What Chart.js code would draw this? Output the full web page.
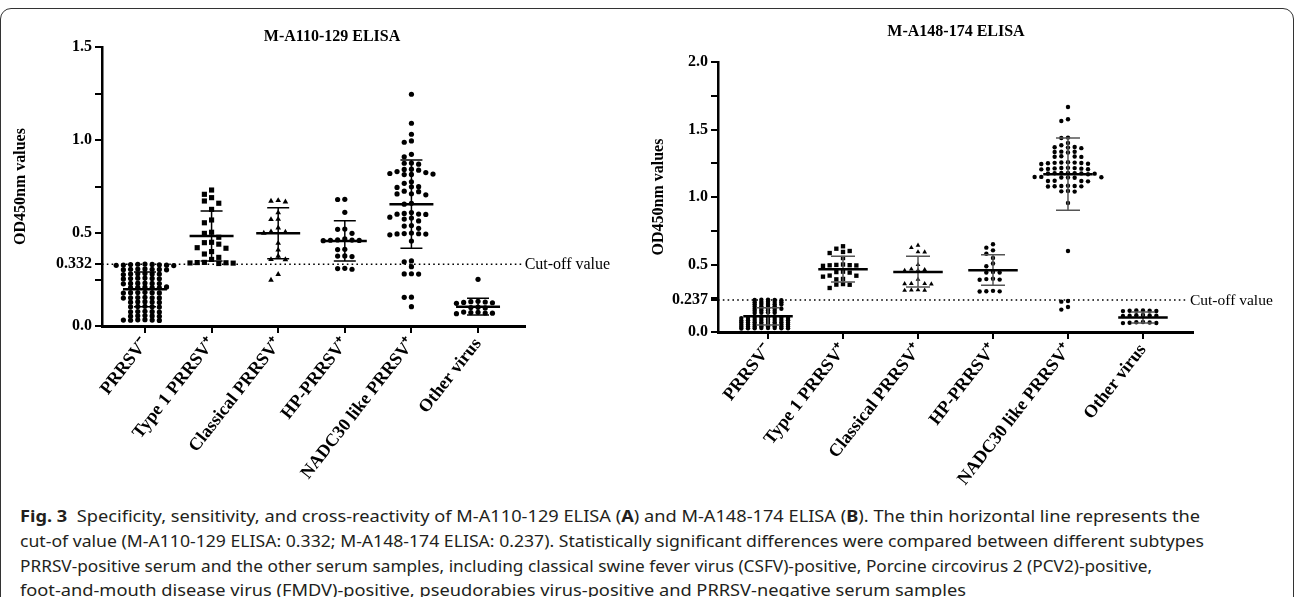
<!DOCTYPE html>
<html><head><meta charset="utf-8">
<script src="https://cdn.jsdelivr.net/npm/chart.js@4.4.0/dist/chart.umd.min.js"></script>
<style>
html,body{margin:0;padding:0;background:#fff;width:1295px;height:597px;overflow:hidden;position:relative;}
#frame{position:absolute;left:0;top:8px;width:1294px;height:600px;border:1.5px solid #333;border-radius:11px;box-sizing:border-box;}
canvas{position:absolute;top:0;}
#c1{left:0;} #c2{left:637px;}
.ttl{position:absolute;font-family:'Liberation Serif';font-weight:bold;font-size:16px;color:#000;white-space:nowrap;transform:translate(-50%,-50%);}
.cap{position:absolute;left:20px;font-family:'Noto Sans';font-size:16px;line-height:20px;color:#231f20;white-space:nowrap;transform-origin:0 50%;}
.cap b{font-weight:bold;}
</style></head><body>
<div id="frame"></div>
<canvas id="c1" width="664" height="500"></canvas>
<canvas id="c2" width="638" height="500"></canvas>
<div class="ttl" style="left:332px;top:36px;">M-A110-129 ELISA</div>
<div class="ttl" style="left:956px;top:31px;">M-A148-174 ELISA</div>
<div class="cap" data-w="1180" style="top:506px;"><b>Fig. 3</b>&nbsp; Specificity, sensitivity, and cross-reactivity of M-A110-129 ELISA (<b>A</b>) and M-A148-174 ELISA (<b>B</b>). The thin horizontal line represents the</div>
<div class="cap" data-w="1184" style="top:531px;">cut-of value (M-A110-129 ELISA: 0.332; M-A148-174 ELISA: 0.237). Statistically significant differences were compared between different subtypes</div>
<div class="cap" data-w="1132" style="top:556px;">PRRSV-positive serum and the other serum samples, including classical swine fever virus (CSFV)-positive, Porcine circovirus 2 (PCV2)-positive,</div>
<div class="cap" data-w="946" style="top:580px;">foot-and-mouth disease virus (FMDV)-positive, pseudorabies virus-positive and PRRSV-negative serum samples</div>
<script>
// ---------- data ----------
const categories = ['PRRSV\u207B','Type 1 PRRSV\u207A','Classical PRRSV\u207A','HP-PRRSV\u207A','NADC30 like PRRSV\u207A','Other virus'];

// Panel A: M-A110-129 ELISA
const A_prrsvNeg = [0.331,0.329,0.333,0.327,0.330,0.326,0.332,0.325,0.328,
  0.307,0.305,0.304,0.306,0.302,0.305,0.303,
  0.282,0.280,0.279,0.281,0.277,0.280,
  0.257,0.256,0.254,0.258,0.255,0.253,
  0.231,0.229,0.228,0.230,0.227,0.229,
  0.209,0.207,0.208,0.206,0.210,0.205,
  0.181,0.179,0.178,0.180,0.177,0.179,
  0.153,0.152,0.150,0.154,0.151,0.152,
  0.130,0.129,0.127,0.131,0.128,
  0.105,0.104,0.102,0.106,0.103,
  0.078,0.077,0.075,0.079,0.076,
  0.055,0.054,0.052,0.056,0.053,
  0.033,0.032,0.030,0.034,0.031,0.032];
const A_type1 = [0.731,0.708,0.690,0.672,0.660,0.627,0.570,0.555,0.504,0.498,0.477,0.450,0.448,0.440,0.421,0.418,0.400,0.387,0.369,0.358,0.342,0.340,0.341,0.339,0.338,0.336];
const A_classical = [0.672,0.668,0.675,0.609,0.574,0.573,0.528,0.507,0.505,0.500,0.445,0.409,0.376,0.358,0.357,0.278,0.247];
const A_hp = [0.681,0.680,0.611,0.521,0.520,0.498,0.462,0.460,0.463,0.468,0.459,0.461,0.412,0.411,0.376,0.373,0.377,0.310,0.305,0.309];
const A_nadc30 = [1.246,1.090,1.031,0.995,0.988,0.923,0.910,0.875,0.876,0.870,0.842,0.843,0.838,0.817,0.820,0.815,0.825,0.830,0.814,0.767,0.775,0.749,0.748,0.745,0.722,0.725,0.710,0.711,0.705,0.660,0.655,0.600,0.610,0.601,0.605,0.580,0.602,0.585,0.575,0.565,0.537,0.540,0.525,0.500,0.495,0.496,0.490,0.494,0.497,0.457,0.350,0.345,0.319,0.280,0.281,0.279,0.154,0.155,0.104];
const A_other = [0.251,0.131,0.127,0.133,0.125,0.129,0.122,0.097,0.099,0.101,0.072,0.066,0.070,0.075,0.069,0.074];
const A_groups = [A_prrsvNeg,A_type1,A_classical,A_hp,A_nadc30,A_other];
const A_means  = [0.197,0.484,0.498,0.457,0.654,0.104];
const A_sdHigh = [0.290,0.618,0.636,0.566,0.892,0.149];
const A_sdLow  = [0.104,0.349,0.362,0.349,0.418,0.059];
const A_cutoff = 0.332;
const A_yTicks = [0,0.25,0.332,0.5,0.75,1.0,1.25,1.5];
const A_yTickLabels = ['0.0','','0.332','0.5','','1.0','','1.5'];

// Panel B: M-A148-174 ELISA
const B_prrsvNeg = [0.240,0.238,0.236,0.239,0.237,
  0.223,0.221,0.222,0.220,0.224,
  0.207,0.205,0.206,0.204,0.208,
  0.191,0.189,0.190,0.192,
  0.175,0.173,0.174,0.176,0.172,
  0.159,0.157,0.158,0.160,
  0.143,0.141,0.142,0.144,
  0.106,0.104,0.105,0.103,0.107,0.105,0.104,0.106,
  0.089,0.087,0.088,0.090,0.086,0.089,0.088,0.087,
  0.072,0.071,0.073,0.070,0.074,0.072,0.071,0.073,
  0.057,0.055,0.056,0.058,0.054,0.056,0.057,0.055,
  0.042,0.040,0.041,0.043,0.039,0.041,0.042,0.040,
  0.029,0.027,0.028,0.030,0.026,0.028,0.029,0.027];
const B_type1 = [0.635,0.617,0.600,0.593,0.585,0.548,0.494,0.493,0.500,0.497,0.490,0.495,0.444,0.447,0.440,0.418,0.417,0.410,0.390,0.393,0.351,0.350,0.355,0.326];
const B_classical = [0.642,0.625,0.593,0.592,0.499,0.457,0.462,0.465,0.455,0.390,0.358,0.355,0.357,0.359,0.311,0.312,0.308,0.309];
const B_hp = [0.650,0.625,0.605,0.580,0.548,0.507,0.487,0.440,0.445,0.441,0.387,0.392,0.395,0.388,0.300,0.305,0.301,0.302];
const B_nadc30 = [1.667,1.576,1.563,1.440,1.437,1.400,1.383,
  1.366,1.370,1.368,1.362,
  1.333,1.336,1.330,1.335,
  1.300,1.298,1.302,1.297,
  1.252,1.245,1.258,1.250,1.256,1.253,1.246,1.255,
  1.215,1.208,1.216,1.212,1.214,1.205,1.206,1.210,
  1.175,1.174,1.178,1.177,1.176,1.168,1.179,1.173,
  1.146,1.148,1.143,1.145,1.149,1.144,
  1.118,1.120,1.116,1.119,
  1.080,1.082,1.078,1.081,1.079,1.083,
  1.042,1.044,1.040,
  0.956,0.600,0.230,0.225,0.185,0.166];
const B_other = [0.158,0.160,0.156,0.159,0.157,0.155,0.124,0.120,0.126,0.122,0.118,0.121,0.072,0.068,0.074,0.066,0.070,0.067];
const B_groups = [B_prrsvNeg,B_type1,B_classical,B_hp,B_nadc30,B_other];
const B_means  = [0.116,0.464,0.444,0.457,1.168,0.107];
const B_sdHigh = [0.180,0.561,0.561,0.573,1.437,0.148];
const B_sdLow  = [0.052,0.370,0.333,0.346,0.901,0.067];
const B_cutoff = 0.237;
const B_yTicks = [0,0.237,0.25,0.5,0.75,1.0,1.25,1.5,1.75,2.0];
const B_yTickLabels = ['0.0','0.237','','0.5','','1.0','','1.5','','2.0'];

// ---------- helpers ----------
const SERIF = 'Liberation Serif';
const markerStyles = ['circle','rect','triangle','circle','circle','circle'];

// grid beeswarm: a point moves sideways (0,-1,+1,-2,+2,...) until it no longer collides
function swarm(values, center, collidePx, stepX, pxPerY) {
  const s = values.slice().sort((a,b)=>b-a);
  const placed = [];
  s.forEach(v => {
    for (let k=0; k<80; k++) {
      const off = k===0 ? 0 : (k%2 ? -Math.ceil(k/2) : k/2);
      const ok = placed.every(p => p.off !== off || Math.abs(p.v - v)*pxPerY >= collidePx);
      if (ok) { placed.push({v, off}); break; }
    }
  });
  return placed.map(p => ({x: center + p.off*stepX, y: p.v}));
}

function buildChart(el, cfg) {
  const ds = [];
  cfg.groups.forEach((vals, i) => {
    const st = markerStyles[i];
    ds.push({
      data: swarm(vals, i, cfg.collide[i], cfg.step, cfg.pxPerY),
      pointStyle: st,
      pointRadius: st==='rect' ? cfg.r*1.4 : (st==='triangle' ? cfg.r*1.25 : cfg.r),
      pointBackgroundColor: '#000', pointBorderWidth: 0, showLine: false, order: 2
    });
  });
  const meanPts = [], sdPts = [];
  cfg.means.forEach((m, i) => {
    meanPts.push({x:i-cfg.meanHalf,y:m},{x:i+cfg.meanHalf,y:m},{x:i,y:null});
    const hi = cfg.sdHigh[i], lo = cfg.sdLow[i];
    sdPts.push({x:i-cfg.capHalf,y:hi},{x:i+cfg.capHalf,y:hi},{x:i,y:null},
               {x:i,y:hi},{x:i,y:lo},{x:i,y:null},
               {x:i-cfg.capHalf,y:lo},{x:i+cfg.capHalf,y:lo},{x:i,y:null});
  });
  ds.push({data: sdPts, showLine:true, spanGaps:false, borderColor: cfg.sdColor, borderWidth:1.5, pointRadius:0, order:1});
  ds.push({data: meanPts, showLine:true, spanGaps:false, borderColor:'#000', borderWidth:2.5, pointRadius:0, order:0});
  ds.push({data: [{x:cfg.xMin,y:cfg.cutoff},{x:cfg.cutEnd,y:cfg.cutoff}], showLine:true, borderColor:'#000', borderWidth:1.6, borderDash:[1.6,3.2], pointRadius:0, order:3});

  const cutLabel = {
    id:'cutLabel',
    afterDraw(chart){
      const c = chart.ctx, xs = chart.scales.x, ys = chart.scales.y;
      c.save();
      c.font = cfg.cutFont + 'px "' + SERIF + '"';
      c.fillStyle = '#000'; c.textBaseline = 'middle'; c.textAlign = 'left';
      c.fillText('Cut-off value', xs.getPixelForValue(cfg.cutEnd) + 2, ys.getPixelForValue(cfg.cutoff) + 1);
      c.restore();
    }
  };

  return new Chart(el, {
    type: 'scatter',
    data: { datasets: ds },
    plugins: [cutLabel],
    options: {
      responsive:false, animation:false, devicePixelRatio:1,
      layout: { autoPadding:false, padding: { top: cfg.padTop, right: cfg.padRight, left:0, bottom:0 } },
      plugins: { legend:{display:false}, tooltip:{enabled:false}, title:{display:false} },
      scales: {
        x: {
          type:'linear', min: cfg.xMin, max: cfg.xMax,
          afterBuildTicks: s => { s.ticks = categories.map((_,i)=>({value:i})); },
          afterFit: s => { s.height = cfg.xHeight; },
          ticks: { autoSkip:false, minRotation:52, maxRotation:52, padding:1, color:'#000',
                   font:{family:SERIF, size:18, weight:'bold'},
                   callback: (v, i) => categories[i] },
          grid: { display:true, drawOnChartArea:false, drawTicks:true, tickLength:7, color:'#000', lineWidth:2 },
          border: { display:true, color:'#000', width:3 }
        },
        y: {
          type:'linear', min:0, max: cfg.yMax,
          afterBuildTicks: s => { s.ticks = cfg.yTicks.map(v=>({value:v})); },
          afterFit: s => { s.width = cfg.yWidth; },
          ticks: { autoSkip:false, padding:3, color:'#000',
                   font:{family:SERIF, size:16, weight:'bold'},
                   callback: (v, i) => cfg.yTickLabels[i] },
          grid: { display:true, drawOnChartArea:false, drawTicks:true, tickLength:7, color:'#000', lineWidth:2 },
          border: { display:true, color:'#000', width:2.5 },
          title: { display:true, text:'OD450nm values', color:'#000',
                   font:{family:SERIF, size:16, weight:'bold'}, padding:{top:cfg.yTitlePad, bottom:0} }
        }
      }
    }
  });
}

function draw() {
  buildChart(document.getElementById('c1'), {
    groups:A_groups, means:A_means, sdHigh:A_sdHigh, sdLow:A_sdLow, cutoff:A_cutoff,
    yTicks:A_yTicks, yTickLabels:A_yTickLabels, yMax:1.5,
    xMin:-0.645, xMax:5.705, cutEnd:5.67, padTop:47, padRight:139, xHeight:174, yWidth:102, yTitlePad:11.4,
    collide:[4,6,6,6,5,5], pxPerY:186, step:0.108, r:2.6, meanHalf:0.33, capHalf:0.165, sdColor:'#000', cutFont:16
  });
  buildChart(document.getElementById('c2'), {
    groups:B_groups, means:B_means, sdHigh:B_sdHigh, sdLow:B_sdLow, cutoff:B_cutoff,
    yTicks:B_yTicks, yTickLabels:B_yTickLabels, yMax:2.0,
    xMin:-0.667, xMax:5.667, cutEnd:5.6, padTop:62, padRight:82, xHeight:168, yWidth:81, yTitlePad:12.4,
    collide:[1.5,5,5,5,4.5,4.5], pxPerY:135, step:0.089, r:2.2, meanHalf:0.33, capHalf:0.16, sdColor:'#555', cutFont:15.5
  });
  document.querySelectorAll('.cap').forEach(d => {
    const w = d.getBoundingClientRect().width;
    const target = parseFloat(d.dataset.w);
    d.style.transform = 'scaleX(' + (target / w) + ')';
  });
}
if (document.fonts && document.fonts.ready) document.fonts.ready.then(draw); else draw();
</script>
</body></html>
